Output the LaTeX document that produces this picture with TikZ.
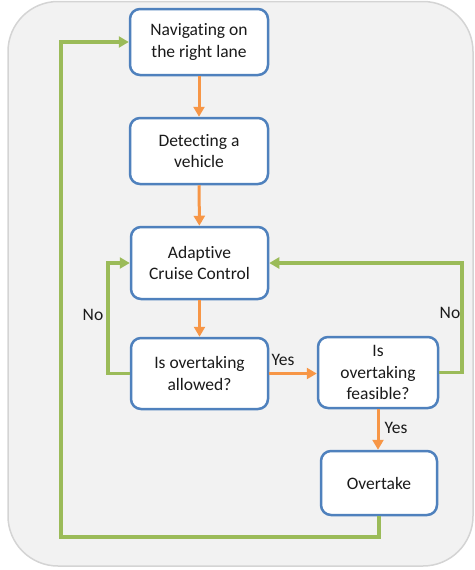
\documentclass[tikz,border=0pt]{standalone}
\usepackage{fontspec}
\setmainfont{Carlito}[Ligatures={NoCommon}]
\usetikzlibrary{arrows.meta}
\definecolor{boxblue}{HTML}{4F81BD}
\definecolor{arrorange}{HTML}{F79646}
\definecolor{loopgreen}{HTML}{9BBB59}
\definecolor{bgfill}{HTML}{F2F2F2}
\definecolor{bgline}{HTML}{D4D4D4}
\definecolor{txt}{HTML}{1A1A1A}
\begin{document}
\begin{tikzpicture}[x=1pt,y=-1pt,
  stepbox/.style={draw=boxblue, line width=2.5pt, fill=white, rounded corners=10pt,
    inner sep=0pt, align=center, text=txt,
    font=\fontsize{17.5}{21.5}\selectfont},
  lbl/.style={text=txt, inner sep=0pt, font=\fontsize{17.5}{21.5}\selectfont},
  orarrow/.style={draw=arrorange, line width=3pt, -{Triangle[length=10pt,width=11pt]}},
  grarrow/.style={draw=loopgreen, line width=3.2pt, -{Triangle[length=10pt,width=11pt]}}
]
\useasboundingbox (0,0) rectangle (474,570);
\draw[draw=bgline, fill=bgfill, line width=1.5pt, rounded corners=50pt] (8,1.5) rectangle (473,566);

\node[stepbox, minimum width=138pt, minimum height=66pt] (n1) at (199,42) {Navigating on\\the right lane};
\node[stepbox, minimum width=138pt, minimum height=66pt] (n2) at (199,151) {Detecting a\\vehicle};
\node[stepbox, minimum width=137pt, minimum height=72pt] (n3) at (199.5,263) {Adaptive\\Cruise Control};
\node[stepbox, minimum width=137pt, minimum height=71pt] (n4) at (199.5,373.5) {Is overtaking\\allowed?};
\node[stepbox, minimum width=120pt, minimum height=71pt] (n5) at (378,372.5) {Is\\overtaking\\feasible?};
\node[stepbox, minimum width=116pt, minimum height=64pt] (n6) at (379,483) {Overtake};

\draw[orarrow] (n1) -- (n2);
\draw[orarrow] (n2) -- (n3);
\draw[orarrow] (n3) -- (n4);
\draw[orarrow] (n4.east) -- (n4.east -| n5.west);
\draw[orarrow] (n5.south) -- (n5.south |- n6.north);

\node[lbl] (yes1) at (283,360) {Yes};
\node[lbl] (yes2) at (396,428) {Yes};
\node[lbl] (no1) at (93,315) {No};
\node[lbl] (no2) at (450,313) {No};

\coordinate (cl) at (108,0);
\coordinate (cr) at (462,0);
\coordinate (cb) at (61,537);
\draw[grarrow] (n4.west) -- (n4.west -| cl) |- (n3.west);
\draw[grarrow] (n5.east) -- (n5.east -| cr) |- (n3.east);
\draw[grarrow] (n6.south) |- (cb) |- (n1.west);
\end{tikzpicture}
\end{document}
